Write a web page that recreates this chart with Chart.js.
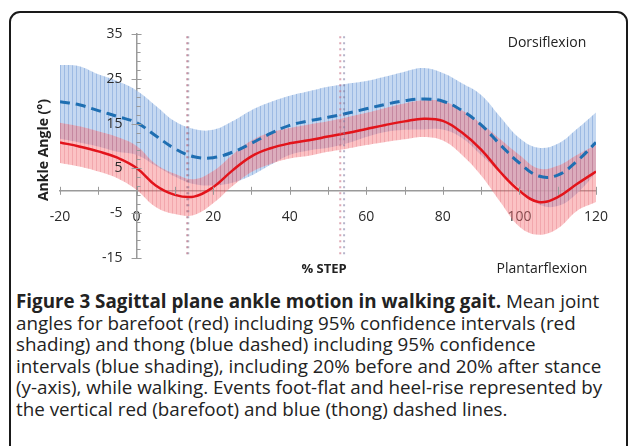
<!DOCTYPE html>
<html>
<head>
<meta charset="utf-8">
<script src="https://cdn.jsdelivr.net/npm/chart.js@4"></script>
<style>
  html, body { margin: 0; padding: 0; background: #fff; }
  body { width: 629px; height: 446px; position: relative; overflow: hidden; font-family: "Open Sans", sans-serif; }
  #frame { position: absolute; left: 9px; top: 11px; width: 615px; height: 520px; border: 2px solid #1a1a1a; border-radius: 11px; }
  #wrap { position: absolute; left: 0; top: 0; width: 629px; height: 285px; }
  #caption { position: absolute; left: 16px; top: 291px; font-size: 18.8px; line-height: 21.5px; color: #222; white-space: nowrap; }
  #caption b { font-weight: 700; }
</style>
</head>
<body>
<div id="frame"></div>
<div id="wrap"><canvas id="myChart"></canvas></div>
<div id="caption"><b>Figure 3 Sagittal plane ankle motion in walking gait.</b> Mean joint<br>angles for barefoot (red) including 95% confidence intervals (red<br>shading) and thong (blue dashed) including 95% confidence<br>intervals (blue shading), including 20% before and 20% after stance<br>(y-axis), while walking. Events foot-flat and heel-rise represented by<br>the vertical red (barefoot) and blue (thong) dashed lines.</div>
<script>
// % of step where the curves were read
const steps = [-20, -15, -10, -5, 0, 5, 10, 15, 20, 25, 30, 35, 40, 45, 50, 55, 60, 65, 70, 75, 80, 85, 90, 95, 100, 105, 110, 115, 120];

// barefoot (red) mean and 95% CI
const barefootMean = [10.8, 9.9, 8.8, 7.4, 5.1, 1.2, -0.9, -1.3, 0.8, 4.5, 7.7, 9.5, 10.6, 11.3, 12.1, 12.9, 13.8, 14.7, 15.5, 16.1, 15.6, 13.0, 9.2, 4.2, 0.0, -2.5, -1.4, 1.5, 4.3];
const barefootUpper = [15.2, 14.4, 13.3, 12.0, 10.0, 6.0, 3.8, 2.6, 4.4, 8.0, 11.2, 13.0, 14.0, 14.8, 15.5, 16.4, 17.4, 18.5, 19.5, 20.2, 20.0, 18.0, 15.0, 11.5, 8.0, 5.0, 5.6, 8.0, 10.3];
const barefootLower = [6.2, 5.4, 4.3, 2.8, 0.2, -3.6, -5.2, -5.4, -2.8, 1.0, 4.2, 6.0, 7.2, 7.8, 8.7, 9.4, 10.2, 10.9, 11.5, 12.0, 11.2, 8.0, 3.4, -2.5, -8.0, -9.8, -8.4, -4.5, -2.5];

// thong (blue) mean and 95% CI
const thongMean = [19.9, 19.2, 17.9, 16.6, 15.2, 12.3, 9.4, 7.6, 7.4, 8.6, 10.6, 12.8, 14.6, 15.6, 16.4, 17.3, 18.3, 19.3, 20.1, 20.5, 20.0, 17.9, 14.7, 10.3, 6.2, 3.3, 3.5, 6.6, 10.8];
const thongUpper = [28.1, 27.8, 26.0, 24.5, 22.4, 19.0, 15.5, 13.8, 13.6, 15.5, 18.0, 19.8, 21.2, 22.2, 23.2, 23.9, 24.5, 25.5, 26.6, 27.4, 26.3, 24.0, 21.4, 16.5, 11.8, 9.6, 10.5, 13.8, 17.5];
const thongLower = [11.6, 10.8, 9.9, 8.7, 8.0, 5.6, 3.2, 1.5, 1.2, 1.8, 3.4, 5.8, 8.0, 9.0, 9.6, 10.6, 12.0, 13.1, 13.6, 13.7, 13.7, 11.8, 8.0, 4.1, 0.6, -3.0, -3.4, -0.6, 4.1];

// events: foot-flat and heel-rise (% step)
const barefootEvents = [13.2, 53.2];
const thongEvents = [13.5, 54.2];

const xTickLabels = [-20, 0, 20, 40, 60, 80, 100, 120];
const yTickLabels = [-15, -5, 5, 15, 25, 35];

const toPoints = (arr) => arr.map((v, i) => ({ x: steps[i], y: v }));

// vertical hatch, like the dense error bars of the original
function hatch(base, line) {
  const c = document.createElement("canvas");
  c.width = 4; c.height = 4;
  const g = c.getContext("2d");
  g.fillStyle = base; g.fillRect(0, 0, 4, 4);
  g.clearRect(0, 0, 1, 4);
  g.fillStyle = line; g.fillRect(0, 0, 1, 4);
  return g.createPattern(c, "repeat");
}

const AXIS = "#9a9a9a";
const TXT = "#2a2a2a";

function eventLine(x, color) {
  return {
    data: [{ x: x, y: 34.5 }, { x: x, y: -14.5 }],
    borderColor: color, borderWidth: 2, borderDash: [2, 4],
    pointRadius: 0, fill: false, order: 0,
  };
}

// small tick marks and the free texts
const extras = {
  id: "extras",
  afterDraw(chart) {
    const { ctx, scales: { x, y } } = chart;
    const x0 = x.getPixelForValue(0), y0 = y.getPixelForValue(0);
    ctx.save();
    ctx.strokeStyle = AXIS; ctx.lineWidth = 1;
    ctx.beginPath();
    for (let v = -15; v <= 35; v += 2) {
      const py = Math.round(y.getPixelForValue(v)) + 0.5;
      const major = yTickLabels.includes(v);
      ctx.moveTo(x0 - (major ? 5 : 0), py); ctx.lineTo(x0 + (major ? 5 : 4), py);
    }
    for (let v = -20; v <= 120; v += 10) {
      const px = Math.round(x.getPixelForValue(v)) + 0.5;
      ctx.moveTo(px, y0 - 4); ctx.lineTo(px, y0 + 4);
    }
    ctx.stroke();

    ctx.fillStyle = TXT;
    ctx.font = "14px 'Open Sans'";
    ctx.textAlign = "right"; ctx.textBaseline = "middle";
    yTickLabels.forEach((v) => ctx.fillText(String(v), x0 - 14, y.getPixelForValue(v)));

    ctx.fillStyle = "#222";
    ctx.textAlign = "center";
    ctx.fillText("Dorsiflexion", 547, 43);
    ctx.fillText("Plantarflexion", 542, 269);
    ctx.font = "bold 13px 'Open Sans'";
    ctx.fillText("% STEP", 324, 269);
    ctx.translate(44, 150);
    ctx.rotate(-Math.PI / 2);
    ctx.font = "bold 14px 'Open Sans'";
    ctx.fillText("Ankle Angle (°)", 0, 0);
    ctx.restore();
  },
};

const ctx = document.getElementById("myChart");

new Chart(ctx, {
  type: "line",
  data: {
    datasets: [
      { data: toPoints(thongUpper), fill: "+1", backgroundColor: hatch("rgba(178,203,236,0.75)", "rgba(140,174,222,0.85)"), borderWidth: 0, pointRadius: 0, tension: 0.4, order: 6 },
      { data: toPoints(thongLower), fill: false, borderWidth: 0, pointRadius: 0, tension: 0.4, order: 6 },
      { data: toPoints(barefootUpper), fill: "+1", backgroundColor: hatch("rgba(246,120,125,0.45)", "rgba(232,95,105,0.55)"), borderWidth: 0, pointRadius: 0, tension: 0.4, order: 5 },
      { data: toPoints(barefootLower), fill: false, borderWidth: 0, pointRadius: 0, tension: 0.4, order: 5 },
      eventLine(barefootEvents[0], "rgba(190,110,130,0.6)"),
      eventLine(thongEvents[0], "rgba(120,120,150,0.55)"),
      eventLine(barefootEvents[1], "rgba(200,110,130,0.6)"),
      eventLine(thongEvents[1], "rgba(120,120,160,0.55)"),
      { data: toPoints(thongMean), borderColor: "#1f6fb2", borderWidth: 3, borderDash: [10, 6], pointRadius: 0, fill: false, tension: 0.4, order: 2 },
      { data: toPoints(barefootMean), borderColor: "#e3141b", borderWidth: 2.5, pointRadius: 0, fill: false, tension: 0.4, order: 1 },
    ],
  },
  options: {
    responsive: true,
    maintainAspectRatio: false,
    animation: false,
    layout: { padding: { left: 60, right: 33, top: 34, bottom: 27 } },
    plugins: { legend: { display: false }, tooltip: { enabled: false } },
    scales: {
      x: {
        type: "linear", min: -20, max: 120,
        position: { y: 0 },
        grid: { display: false },
        border: { color: AXIS, width: 1.5 },
        afterBuildTicks: (s) => { s.ticks = xTickLabels.map((v) => ({ value: v })); },
        ticks: { color: TXT, font: { family: "Open Sans", size: 14 }, padding: 10, maxRotation: 0 },
      },
      y: {
        type: "linear", min: -15, max: 35,
        position: { x: 0 },
        grid: { display: false },
        border: { color: AXIS, width: 1.5 },
        afterBuildTicks: (s) => { s.ticks = yTickLabels.map((v) => ({ value: v })); },
        ticks: { display: false },
      },
    },
  },
  plugins: [extras],
});
</script>
</body>
</html>
